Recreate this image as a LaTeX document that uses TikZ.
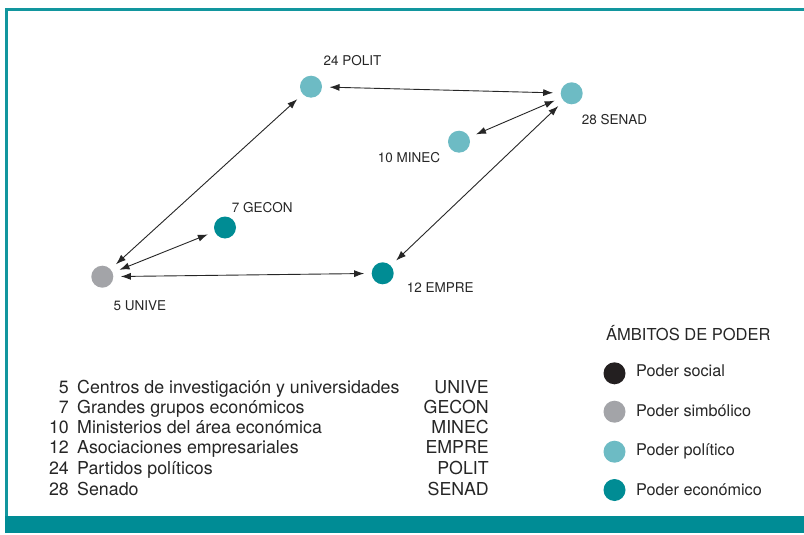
\documentclass[tikz,border=0pt]{standalone}
\usepackage{fontspec}
\setmainfont{TeX Gyre Heros}
\usetikzlibrary{arrows.meta}
\definecolor{frame}{HTML}{12969E}
\definecolor{bar}{HTML}{008C95}
\definecolor{econ}{HTML}{008C94}
\definecolor{poli}{HTML}{6DBBC4}
\definecolor{simb}{HTML}{A3A4A8}
\definecolor{soc}{HTML}{231F20}
\tikzset{
  actor/.style={circle,inner sep=0pt,minimum size=22pt,outer sep=7.5pt},
  lab/.style={font=\fontsize{13.5}{16}\selectfont,text=black!85,inner sep=0pt,anchor=base west},
  rel/.style={{Latex[length=10pt,width=7pt]}-{Latex[length=10pt,width=7pt]},line width=0.9pt,black!85},
  lst/.style={font=\fontsize{17.8}{20}\selectfont,text=black!85,inner sep=0pt},
  leg/.style={font=\fontsize{16.2}{19}\selectfont,text=black!85,inner sep=0pt,anchor=base west},
  legdot/.style={circle,inner sep=0pt,minimum size=22pt},
}
\begin{document}
\begin{tikzpicture}[x=1pt,y=-1pt]
\useasboundingbox (0,0) rectangle (804,535);
\fill[white] (0,0) rectangle (804,535);
% frame
\fill[frame] (5,8) rectangle (804,11);
\fill[frame] (5,8) rectangle (8,516);
\fill[bar] (5,516) rectangle (804,533);
% actors
\node[actor,fill=poli] (polit) at (311,86.7) {};
\node[actor,fill=poli] (senad) at (571.7,93.3) {};
\node[actor,fill=poli] (minec) at (459,141.7) {};
\node[actor,fill=econ] (gecon) at (225,227.5) {};
\node[actor,fill=simb] (unive) at (102.3,276.7) {};
\node[actor,fill=econ] (empre) at (382.7,273.3) {};
% labels
\node[lab] (lpolit) at (323.3,66) {24 POLIT};
\node[lab] (lsenad) at (581.7,124.3) {28 SENAD};
\node[lab] (lminec) at (377.7,162) {10 MINEC};
\node[lab] (lgecon) at (231.7,212.3) {7 GECON};
\node[lab] (lunive) at (113.3,310) {5 UNIVE};
\node[lab] (lempre) at (406.7,292.3) {12 EMPRE};
% relations
\draw[rel] (unive) -- (polit);
\draw[rel] (unive) -- (gecon);
\draw[rel] (unive) -- (empre);
\draw[rel] (polit) -- (senad);
\draw[rel] (minec) -- (senad);
\draw[rel] (empre) -- (senad);
% list
\foreach \n/\t/\a/\y [count=\i] in {5/Centros de investigación y universidades/UNIVE/393.3,
  7/Grandes grupos económicos/GECON/413.3,
  10/Ministerios del área económica/MINEC/433.3,
  12/Asociaciones empresariales/EMPRE/453.5,
  24/Partidos políticos/POLIT/474,
  28/Senado/SENAD/495.5}{
  \node[lst,anchor=base east] (num\i) at (69,\y) {\n};
  \node[lst,anchor=base west] (txt\i) at (77,\y) {\t};
  \node[lst,anchor=base east] (abb\i) at (489,\y) {\a};
}
% legend
\node[leg,font=\fontsize{16.5}{19}\selectfont] (legtitle) at (606,340.7) {ÁMBITOS DE PODER};
\foreach \c/\t/\y/\b [count=\i] in {soc/Poder social/373.3/376.7, simb/Poder simbólico/411.7/416.7, poli/Poder político/451.7/455.7, econ/Poder económico/490/495.7}{
  \node[legdot,fill=\c] (dot\i) at (614.5,\y) {};
  \node[leg] (leg\i) at (636,\b) {\t};
}
\end{tikzpicture}
\end{document}
